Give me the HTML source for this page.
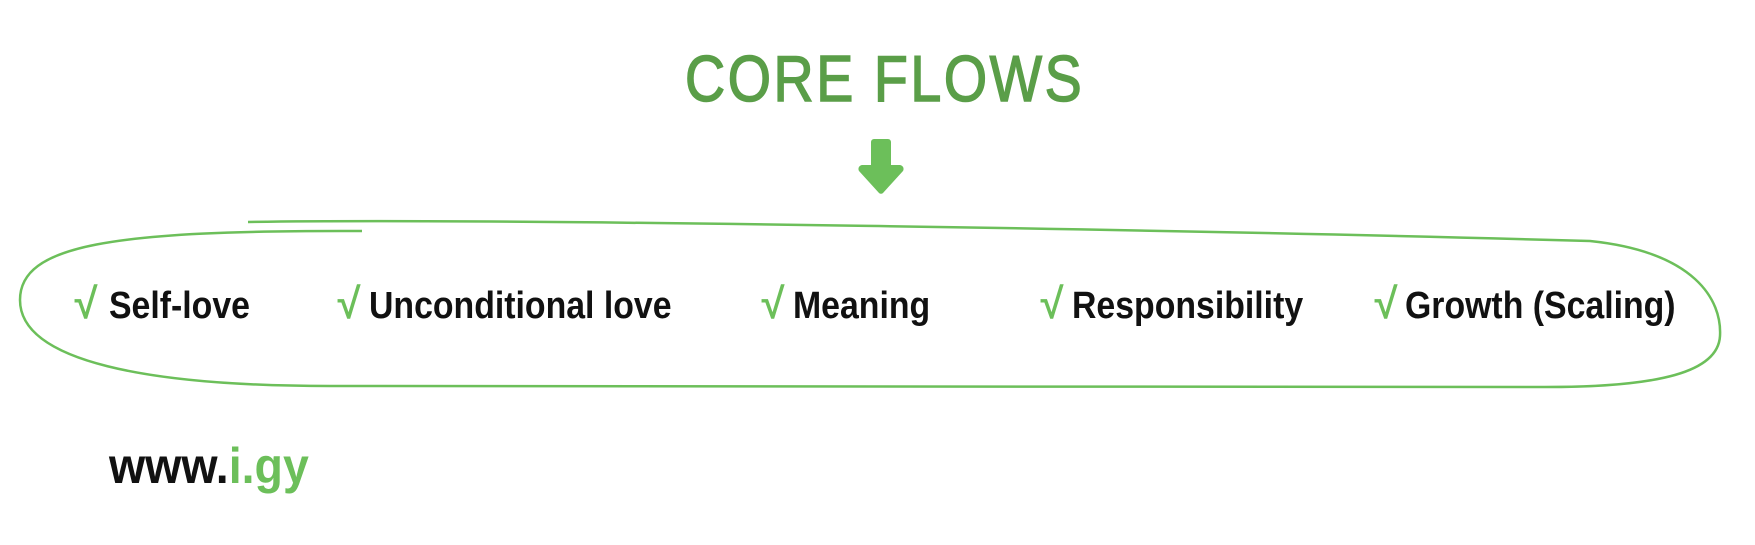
<!DOCTYPE html>
<html><head><meta charset="utf-8"><style>
html,body{margin:0;padding:0;background:#fff;}
body{width:1755px;height:545px;position:relative;overflow:hidden;font-family:"Liberation Sans",sans-serif;}
.t{position:absolute;white-space:nowrap;transform-origin:0 0;}
.title{left:685px;top:44px;font-size:65px;color:#5a9e48;letter-spacing:3px;line-height:70px;transform:scaleX(0.855);-webkit-text-stroke:1.5px #5a9e48;}
.item{font-weight:bold;font-size:38px;color:#111;top:286px;line-height:40px;transform:scaleX(0.89);}
.ck{position:absolute;top:284px;color:#6cbf5a;font-size:42px;line-height:40px;-webkit-text-stroke:1px #6cbf5a;}
.www{left:109px;top:438px;font-size:50px;font-weight:bold;color:#111;line-height:56px;transform:scaleX(0.93);}
.www span{color:#6cbf5a;}
</style></head><body>
<div class="t title">CORE FLOWS</div>
<svg width="1755" height="545" style="position:absolute;left:0;top:0">
<path d="M874 139 h14 a3 3 0 0 1 3 3 v23 h9 a4 4 0 0 1 3 6 l-20 22 a3 3 0 0 1 -4 0 l-20 -22 a4 4 0 0 1 3 -6 h9 v-23 a3 3 0 0 1 3 -3z" fill="#6cbf5a"/>
<path d="M248 222 C500 218 1200 230 1590 241 C1695 252 1722 300 1720 336 C1718 372 1660 387 1545 387 L330 386 C150 386 20 362 20 300 C20 245 110 230 362 231" fill="none" stroke="#6cbf5a" stroke-width="2.5"/>
</svg>
<div class="ck" style="left:74px">√</div><div class="t item" style="left:109px">Self-love</div>
<div class="ck" style="left:337px">√</div><div class="t item" style="left:369px">Unconditional love</div>
<div class="ck" style="left:761px">√</div><div class="t item" style="left:793px">Meaning</div>
<div class="ck" style="left:1040px">√</div><div class="t item" style="left:1072px">Responsibility</div>
<div class="ck" style="left:1374px">√</div><div class="t item" style="left:1405px">Growth (Scaling)</div>
<div class="t www">www.<span>i.gy</span></div>
</body></html>
